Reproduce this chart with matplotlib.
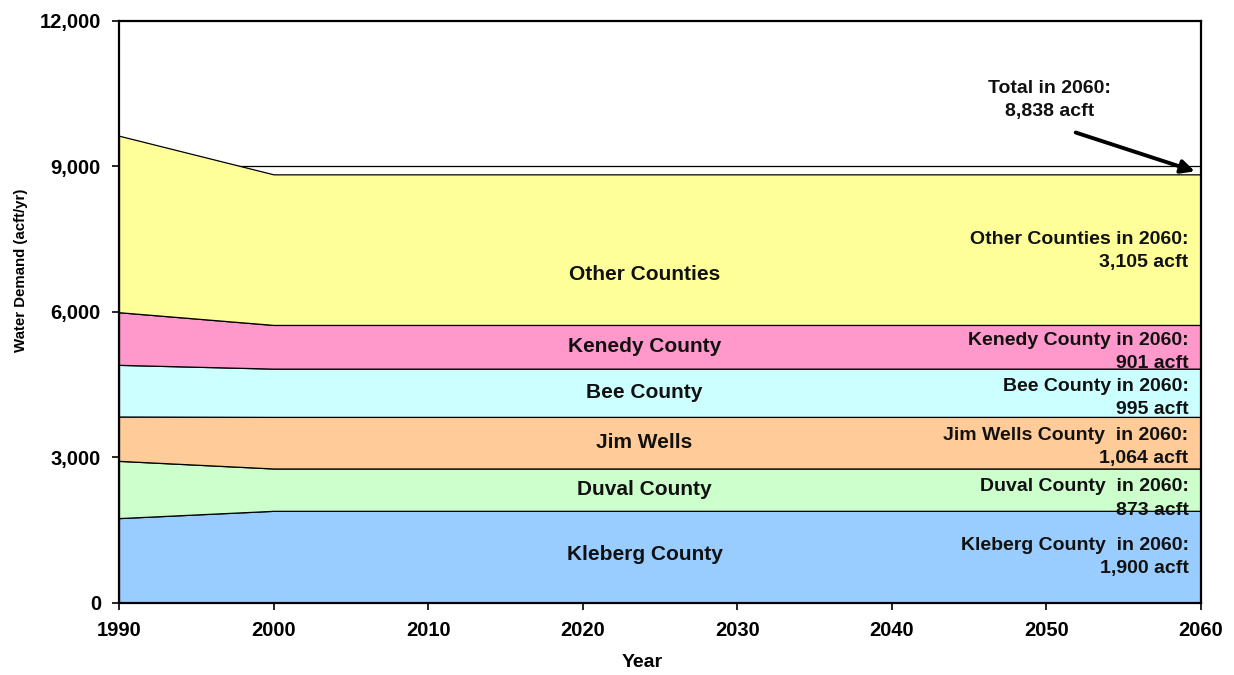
import matplotlib
matplotlib.use("Agg")
import matplotlib.pyplot as plt
from matplotlib.ticker import FuncFormatter

plt.rcParams['font.family'] = ['Liberation Sans', 'DejaVu Sans']
plt.rcParams['font.weight'] = 'bold'

# demand by county (acft/yr), bottom layer first
years = [1990, 2000, 2010, 2020, 2030, 2040, 2050, 2060]
kleberg = [1750, 1900, 1900, 1900, 1900, 1900, 1900, 1900]
duval = [1180, 873, 873, 873, 873, 873, 873, 873]
jim_wells = [915, 1064, 1064, 1064, 1064, 1064, 1064, 1064]
bee = [1065, 995, 995, 995, 995, 995, 995, 995]
kenedy = [1085, 901, 901, 901, 901, 901, 901, 901]
other = [3640, 3105, 3105, 3105, 3105, 3105, 3105, 3105]

layers = [kleberg, duval, jim_wells, bee, kenedy, other]
colors = ['#99ccff', '#ccffcc', '#ffcc99', '#ccffff', '#ff99cc', '#ffff99']
inner_labels = ['Kleberg County', 'Duval County', 'Jim Wells', 'Bee County',
                'Kenedy County', 'Other Counties']
side_labels = ['Kleberg County  in 2060:', 'Duval County  in 2060:',
               'Jim Wells County  in 2060:', 'Bee County in 2060:',
               'Kenedy County in 2060:', 'Other Counties in 2060:']
total_2060 = sum(l[-1] for l in layers)

fig = plt.figure(figsize=(12.34, 6.75), dpi=100)
ax = fig.add_axes([0.0964, 0.1067, 0.8768, 0.8622])

# gridline at 9,000 sits behind the filled areas
ax.axhline(9000, color='black', lw=0.9, zorder=0.5)
ax.stackplot(years, *layers, colors=colors, edgecolor='black', linewidth=0.9,
             zorder=1)

ax.set_xlim(1990, 2060)
ax.set_ylim(0, 12000)
ax.set_xticks(range(1990, 2061, 10))
ax.set_yticks(range(0, 12001, 3000))
ax.yaxis.set_major_formatter(FuncFormatter(lambda v, p: f"{int(v):,}"))
ax.tick_params(axis='both', direction='out', length=5, width=1.2,
               labelsize=14.5, pad=8)
for sp in ax.spines.values():
    sp.set_linewidth(1.6)
    sp.set_zorder(3)

ax.set_xlabel('Year', fontsize=14, fontweight='bold')
ax.xaxis.set_label_coords(0.484, -0.087)
ax.set_ylabel('Water Demand (acft/yr)', fontsize=10.8, fontweight='bold')
ax.yaxis.set_label_coords(-0.084, 0.572)

# layer names in the middle of each band
mid_x = 2024
base = 0
for vals, name in zip(layers, inner_labels):
    y = base + vals[3] / 2
    if name == 'Kleberg County':
        y = 990
    elif name == 'Other Counties':
        y = 6780
    ax.text(mid_x, y, name, ha='center', va='center', fontsize=15,
            fontweight='bold', color='#111111', zorder=4)
    base += vals[3]

# 2060 values along the right edge
side_y = [950, 2155, 3215, 4227, 5175, 7258]
for vals, name, y in zip(layers, side_labels, side_y):
    ax.text(2059.2, y, f"{name}\n{vals[-1]:,} acft", ha='right', va='center',
            multialignment='right', fontsize=14, fontweight='bold',
            linespacing=1.5, color='#111111', zorder=4)

ax.text(2050.2, 10370, f"Total in 2060:\n{total_2060:,} acft", ha='center',
        va='center', multialignment='center', fontsize=14, fontweight='bold',
        linespacing=1.5, color='#111111')
ax.annotate('', xy=(2059.6, 8900), xytext=(2051.9, 9700),
            arrowprops=dict(arrowstyle='-|>', lw=2.8, color='black',
                            mutation_scale=20, shrinkA=0, shrinkB=0))

fig.savefig('out.png', dpi=100)
